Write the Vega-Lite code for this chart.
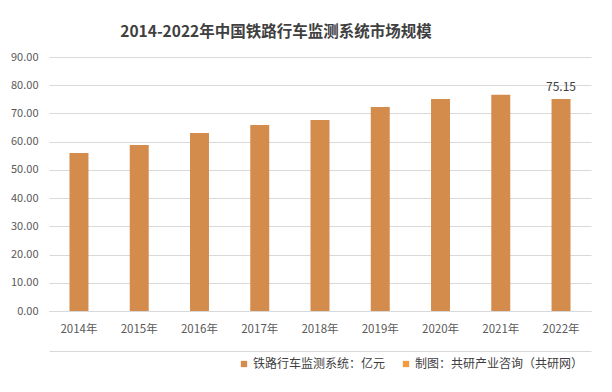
{
  "$schema": "https://vega.github.io/schema/vega-lite/v6.json",
  "autosize": "none",
  "width": 542,
  "height": 254,
  "padding": {"left": 49, "top": 57, "right": 21, "bottom": 81},
  "background": "#ffffff",
  "config": {
    "font": "Noto Sans CJK SC",
    "view": {"stroke": null}
  },
  "title": {
    "text": "2014-2022年中国铁路行车监测系统市场规模",
    "fontSize": 15.5,
    "fontWeight": "bold",
    "color": "#404040",
    "anchor": "middle",
    "offset": 11,
    "dx": -44
  },
  "data": {
    "values": [
      {"year": "2014年", "value": 56.0, "label": ""},
      {"year": "2015年", "value": 58.8, "label": ""},
      {"year": "2016年", "value": 63.1, "label": ""},
      {"year": "2017年", "value": 65.9, "label": ""},
      {"year": "2018年", "value": 67.7, "label": ""},
      {"year": "2019年", "value": 72.3, "label": ""},
      {"year": "2020年", "value": 75.1, "label": ""},
      {"year": "2021年", "value": 76.6, "label": ""},
      {"year": "2022年", "value": 75.15, "label": "75.15"}
    ]
  },
  "encoding": {
    "y": {
      "field": "value", "type": "quantitative",
      "scale": {"domain": [0, 90], "nice": false},
      "axis": {
        "title": null, "values": [0, 10, 20, 30, 40, 50, 60, 70, 80, 90],
        "format": ".2f", "labelFontSize": 11, "labelColor": "#595959", "labelOverlap": false,
        "labelPadding": 11, "ticks": false, "tickSize": 0, "domain": false,
        "grid": true, "gridColor": "#D9D9D9", "gridWidth": 1
      }
    }
  },
  "resolve": {"axis": {"x": "independent"}},
  "layer": [
    {
      "mark": {"type": "bar"},
      "encoding": {
        "x": {
          "field": "year", "type": "nominal", "sort": null,
          "scale": {"paddingInner": 0.685, "paddingOuter": 0.34},
          "axis": {
            "title": null, "labelAngle": 0, "labelFontSize": 11.5, "labelColor": "#595959",
            "labelPadding": 12, "ticks": false, "tickSize": 0,
            "domain": true, "domainColor": "#D9D9D9", "grid": false
          }
        },
        "color": {
          "datum": "铁路行车监测系统：亿元",
          "type": "nominal",
          "scale": {
            "domain": ["铁路行车监测系统：亿元", "制图：共研产业咨询（共研网）"],
            "range": ["#D48C4D", "#F39A3E"]
          },
          "legend": {
            "title": null, "orient": "none", "direction": "horizontal",
            "legendX": 189, "legendY": 301, "gridAlign": "none",
            "symbolType": "square", "symbolSize": 40, "symbolStrokeWidth": 0,
            "labelFontSize": 12, "labelColor": "#404040", "labelOffset": 3,
            "columnPadding": 14, "labelLimit": 300
          }
        }
      }
    },
    {
      "mark": {"type": "text", "baseline": "bottom", "dy": -5, "fontSize": 12, "color": "#404040"},
      "encoding": {
        "x": {
          "field": "year", "type": "nominal", "sort": null,
          "axis": {
            "title": null, "labels": false, "ticks": false, "grid": false,
            "orient": "bottom", "offset": 40, "domain": true, "domainColor": "#D9D9D9"
          }
        },
        "text": {"field": "label"}
      }
    }
  ]
}
